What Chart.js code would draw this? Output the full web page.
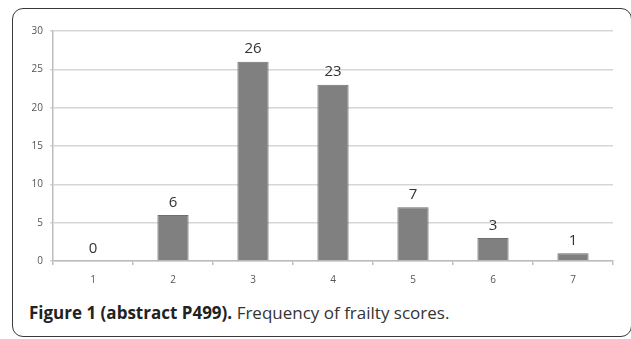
<!DOCTYPE html>
<html>
<head>
<meta charset="utf-8">
<script src="https://cdn.jsdelivr.net/npm/chart.js@4/dist/chart.umd.min.js"></script>
<style>
  html, body { margin: 0; padding: 0; background: #fff; }
  body { width: 631px; height: 339px; position: relative; overflow: hidden; }
  #frame { position: absolute; left: 12px; top: 8px; width: 620px; height: 329px;
           border: 1px solid #3a3a3a; border-radius: 11px; box-sizing: border-box; }
  #wrap { position: absolute; left: 0; top: 0; width: 631px; height: 300px; }
  #caption { position: absolute; left: 29px; top: 301px; font-family: "Open Sans", "Noto Sans", sans-serif;
             font-size: 17px; line-height: 24px; color: #222; white-space: nowrap; letter-spacing: 0px; }
  #caption b { font-weight: 700; }
  #caption span { color: #333; }
</style>
</head>
<body>
<div id="frame"></div>
<div id="wrap"><canvas id="c" width="631" height="300"></canvas></div>
<div id="caption"><b>Figure 1 (abstract P499).</b> <span>Frequency of frailty scores.</span></div>
<script>
const categories = ["1", "2", "3", "4", "5", "6", "7"];
const frequencies = [0, 6, 26, 23, 7, 3, 1];
const yTicks = [0, 5, 10, 15, 20, 25, 30];

const valueLabels = {
  id: 'valueLabels',
  afterDatasetsDraw(chart) {
    const ctx = chart.ctx;
    const meta = chart.getDatasetMeta(0);
    ctx.save();
    ctx.font = '15px "Open Sans", "Noto Sans", sans-serif';
    ctx.fillStyle = '#333';
    ctx.textAlign = 'center';
    ctx.textBaseline = 'bottom';
    meta.data.forEach((bar, i) => {
      ctx.fillText(String(frequencies[i]), bar.x, bar.y - 5);
    });
    ctx.restore();
  }
};

new Chart(document.getElementById('c'), {
  type: 'bar',
  data: {
    labels: categories,
    datasets: [{
      data: frequencies,
      backgroundColor: '#808080',
      borderColor: '#6e6e6e',
      borderWidth: 1,
      barPercentage: 0.39,
      categoryPercentage: 1.0
    }]
  },
  options: {
    responsive: false,
    animation: false,
    devicePixelRatio: 1,
    layout: { padding: { left: 0, top: 31, right: 18, bottom: 9 } },
    plugins: { legend: { display: false }, tooltip: { enabled: false } },
    scales: {
      x: {
        afterFit: (s) => { s.height = 30; },
        grid: { drawOnChartArea: false, offset: true, tickLength: 4, color: '#bdbdbd', lineWidth: 1.5 },
        border: { color: '#bdbdbd', width: 1.5 },
        ticks: { color: '#555', font: { size: 10, family: '"Open Sans", "Noto Sans", sans-serif' }, padding: 9 }
      },
      y: {
        min: 0, max: 30,
        afterFit: (s) => { s.width = 53; },
        afterBuildTicks: (s) => { s.ticks = yTicks.map(v => ({ value: v })); },
        grid: { color: '#d6d6d6', lineWidth: 1.5, tickLength: 3 },
        border: { color: '#bdbdbd', width: 1.5 },
        ticks: { color: '#555', font: { size: 10, family: '"Open Sans", "Noto Sans", sans-serif' }, padding: 7 }
      }
    }
  },
  plugins: [valueLabels]
});
</script>
</body>
</html>
